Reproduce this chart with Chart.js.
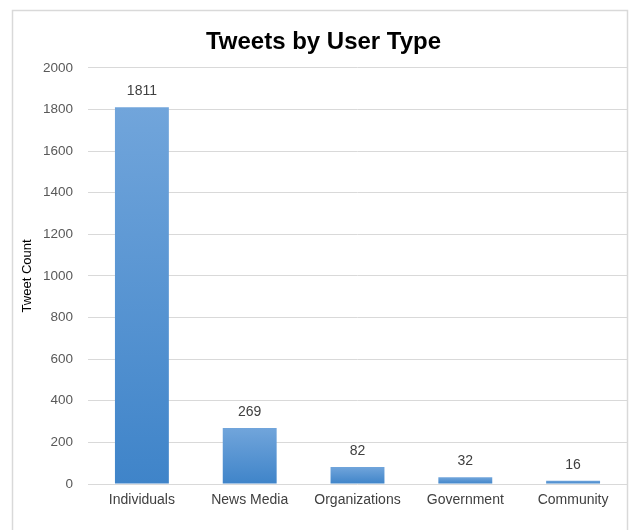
<!DOCTYPE html>
<html>
<head>
<meta charset="utf-8">
<script src="https://cdn.jsdelivr.net/npm/chart.js@4"></script>
<style>
  html, body { margin: 0; padding: 0; background: #ffffff; }
  #wrap { width: 629px; height: 530px; position: relative; }
</style>
</head>
<body>
<div id="wrap"><canvas id="c" width="629" height="530"></canvas></div>
<script>
const categories = ["Individuals", "News Media", "Organizations", "Government", "Community"];
const tweetCounts = [1811, 269, 82, 32, 16];
const yTicks = [0, 200, 400, 600, 800, 1000, 1200, 1400, 1600, 1800, 2000];
const chartTitle = "Tweets by User Type";
const yAxisTitle = "Tweet Count";

const FONT = "'Liberation Sans', Arial, sans-serif";

const frame = {
  id: 'frame',
  beforeDraw(chart) {
    const c = chart.ctx;
    c.save();
    c.fillStyle = '#ffffff';
    c.fillRect(0, 0, chart.width, chart.height);
    c.strokeStyle = '#d9d9d9';
    c.lineWidth = 1.5;
    c.strokeRect(12.5, 10.5, 615, 530);
    c.restore();
  }
};

const valueLabels = {
  id: 'valueLabels',
  afterDatasetsDraw(chart) {
    const c = chart.ctx;
    const meta = chart.getDatasetMeta(0);
    c.save();
    c.font = "14px " + FONT;
    c.fillStyle = '#404040';
    c.textAlign = 'center';
    c.textBaseline = 'bottom';
    meta.data.forEach((el, i) => {
      c.fillText(String(chart.data.datasets[0].data[i]), el.x, el.y - 9);
    });
    c.restore();
  }
};

function barGradient(ctx) {
  const chart = ctx.chart;
  const y = chart.scales.y;
  if (!y || ctx.raw === undefined) return '#5b9bd5';
  const top = y.getPixelForValue(ctx.raw);
  const base = y.getPixelForValue(0);
  if (!isFinite(top) || !isFinite(base) || base - top < 1) return '#5b9bd5';
  const g = chart.ctx.createLinearGradient(0, top, 0, base);
  g.addColorStop(0, '#71a5db');
  g.addColorStop(1, '#3f84c9');
  return g;
}

new Chart(document.getElementById('c'), {
  type: 'bar',
  data: {
    labels: categories,
    datasets: [{
      data: tweetCounts,
      backgroundColor: barGradient,
      borderWidth: 0,
      barPercentage: 0.5,
      categoryPercentage: 1.0
    }]
  },
  options: {
    responsive: false,
    animation: false,
    devicePixelRatio: 1,
    layout: { padding: { left: 20, right: 2, top: 16, bottom: 0 } },
    plugins: {
      legend: { display: false },
      tooltip: { enabled: false },
      title: {
        display: true,
        text: chartTitle,
        color: '#000000',
        font: { family: FONT, size: 24, weight: 'bold' },
        padding: { top: 12, bottom: 11 }
      }
    },
    scales: {
      x: {
        grid: { display: false, drawTicks: false },
        border: { display: false },
        ticks: {
          color: '#404040',
          font: { family: FONT, size: 14 },
          padding: 8,
          maxRotation: 0,
          autoSkip: false
        },
        afterFit(s) { s.height = 46; }
      },
      y: {
        min: 0,
        max: 2000,
        afterBuildTicks(s) { s.ticks = yTicks.map(v => ({ value: v })); },
        grid: { color: '#d9d9d9', lineWidth: 1, drawTicks: false },
        border: { display: false },
        ticks: {
          color: '#595959',
          font: { family: FONT, size: 13.5 },
          padding: 15,
          callback: (v) => String(v)
        },
        title: {
          display: true,
          text: yAxisTitle,
          color: '#000000',
          font: { family: FONT, size: 13 },
          padding: 0
        },
        afterFit(s) { s.width = 68; }
      }
    }
  },
  plugins: [frame, valueLabels]
});
</script>
</body>
</html>
